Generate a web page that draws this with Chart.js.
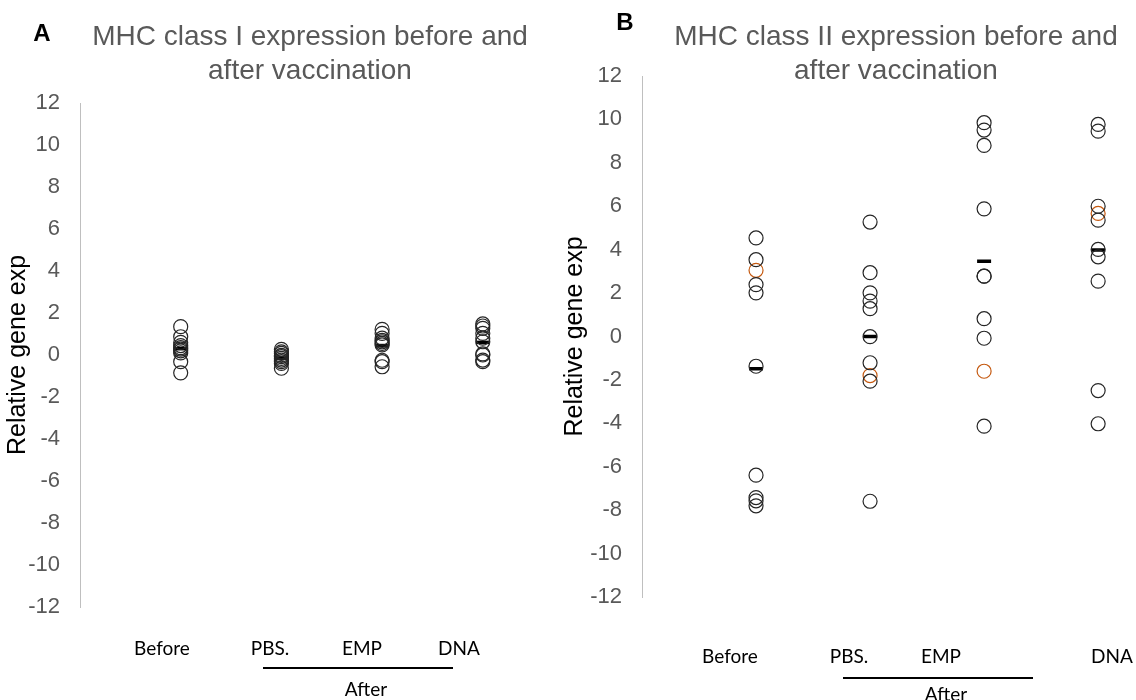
<!DOCTYPE html>
<html>
<head>
<meta charset="utf-8">
<script src="https://cdn.jsdelivr.net/npm/chart.js@4.4.0/dist/chart.umd.min.js"></script>
<style>
  body { margin: 0; background: #fff; }
  #wrap { position: relative; width: 1136px; height: 700px; overflow: hidden; font-family: "Liberation Sans", Arial, sans-serif; }
  canvas { position: absolute; top: 0; }
  .title { position: absolute; color: #595959; font-size: 28px; line-height: 34px; text-align: center; white-space: nowrap; transform: translateX(-50%); }
  .panel { position: absolute; font-weight: bold; font-size: 24px; color: #000; transform: translate(-50%, -50%); }
  .xl { position: absolute; font-family: Lato, "Open Sans", sans-serif; font-size: 19px; color: #000; transform: translate(-50%, -50%); white-space: nowrap; }
  .bar { position: absolute; height: 2px; background: #000; }
</style>
</head>
<body>
<div id="wrap">
  <canvas id="chartA" width="560" height="700" style="left:0;width:560px;height:700px"></canvas>
  <canvas id="chartB" width="576" height="700" style="left:560px;width:576px;height:700px"></canvas>

  <div class="panel" style="left:42px;top:33px">A</div>
  <div class="title" style="left:310px;top:19px">MHC class I expression before and<br>after vaccination</div>
  <div class="panel" style="left:625px;top:22px">B</div>
  <div class="title" style="left:896px;top:19px">MHC class II expression before and<br>after vaccination</div>

  <!-- x labels, panel A -->
  <div class="xl" style="left:162px;top:647px">Before</div>
  <div class="xl" style="left:270px;top:647px">PBS.</div>
  <div class="xl" style="left:362px;top:647px">EMP</div>
  <div class="xl" style="left:459px;top:647px">DNA</div>
  <div class="bar" style="left:263px;top:667px;width:190px"></div>
  <div class="xl" style="left:366px;top:688px">After</div>

  <!-- x labels, panel B -->
  <div class="xl" style="left:730px;top:655px">Before</div>
  <div class="xl" style="left:849px;top:655px">PBS.</div>
  <div class="xl" style="left:941px;top:655px">EMP</div>
  <div class="xl" style="left:1112px;top:655px">DNA</div>
  <div class="bar" style="left:843px;top:677px;width:190px"></div>
  <div class="xl" style="left:946px;top:693px">After</div>
</div>

<script>
// group order on the x axis: 1 Before, 2 PBS., 3 EMP, 4 DNA
const groups = ['Before', 'PBS.', 'EMP', 'DNA'];

// Panel A - MHC class I (relative gene expression)
const aBefore = [1.35, 0.87, 0.6, 0.45, 0.35, 0.28, 0.2, 0.1, -0.32, -0.85];
const aPBS    = [0.27, 0.15, 0.08, -0.02, -0.08, -0.16, -0.24, -0.32, -0.4, -0.63];
const aEMP    = [1.22, 1.03, 0.8, 0.7, 0.63, 0.55, 0.48, -0.25, -0.32, -0.56];
const aDNA    = [1.48, 1.38, 1.27, 1.03, 0.8, 0.63, 0.05, 0, -0.24, -0.32];
const aMeans  = [0.3, -0.15, 0.45, 0.6];

// Panel B - MHC class II
const bBefore = [4.54, 3.54, 2.39, 2.01, -1.37, -6.39, -7.42, -7.57, -7.8];
const bPBS    = [5.27, 2.94, 2.01, 1.63, 1.28, -0.01, -1.21, -2.06, -7.59];
const bEMP    = [9.85, 9.51, 8.8, 5.88, 2.78, 2.78, 0.82, -0.08, -4.13];
const bDNA    = [9.77, 9.46, 6.0, 5.36, 4.01, 3.67, 2.55, -2.49, -4.02];
const bOrange = [3.05, -1.8, -1.6, 5.67];   // one highlighted sample per group
const bMeans  = [-1.49, 0.0, 3.47, 3.98];

const toPts = (vals, gi) => vals.map(v => ({ x: gi + 1, y: v }));

function buildData(groupVals, orange, means) {
  const sets = [{
    data: groupVals.flatMap((vals, i) => toPts(vals, i)),
    pointStyle: 'circle',
    pointRadius: 7,
    pointBorderWidth: 1.2,
    pointBorderColor: '#262626',
    pointBackgroundColor: 'rgba(0,0,0,0)',
    showLine: false
  }];
  if (orange) {
    sets.push({
      data: orange.map((v, i) => ({ x: i + 1, y: v })),
      pointStyle: 'circle',
      pointRadius: 7,
      pointBorderWidth: 1.2,
      pointBorderColor: '#c55a11',
      pointBackgroundColor: 'rgba(0,0,0,0)',
      showLine: false
    });
  }
  sets.push({
    data: means.map((v, i) => ({ x: i + 1, y: v })),
    pointStyle: 'line',
    pointRadius: 7,
    pointBorderWidth: 3.5,
    pointBorderColor: '#000',
    showLine: false
  });
  return { datasets: sets };
}

function makeChart(id, data, opts) {
  return new Chart(document.getElementById(id), {
    type: 'scatter',
    data,
    options: {
      responsive: false,
      animation: false,
      events: [],
      layout: { padding: { top: opts.top, bottom: opts.bottom, left: 0, right: opts.right } },
      plugins: { legend: { display: false }, tooltip: { enabled: false } },
      scales: {
        x: { type: 'linear', display: false, min: 0, max: opts.xMax },
        y: {
          min: -12, max: 12,
          afterFit: s => { s.width = opts.axisW; },
          ticks: { stepSize: 2, padding: 20, color: '#595959', font: { family: 'Liberation Sans', size: 22 } },
          grid: { drawOnChartArea: false, drawTicks: false },
          border: { display: true, color: '#bfbfbf', width: 1 },
          title: {
            display: true, text: 'Relative gene exp', color: '#000',
            font: { family: 'Liberation Sans', size: 25 },
            padding: { top: opts.titlePad, bottom: 0 }
          }
        }
      }
    }
  });
}

makeChart('chartA', buildData([aBefore, aPBS, aEMP, aDNA], null, aMeans),
  { top: 103, bottom: 93, right: 20, xMax: 4.568, axisW: 80, titlePad: 3 });
makeChart('chartB', buildData([bBefore, bPBS, bEMP, bDNA], bOrange, bMeans),
  { top: 76, bottom: 103, right: 0, xMax: 4.24, axisW: 82, titlePad: 0 });
</script>
</body>
</html>
